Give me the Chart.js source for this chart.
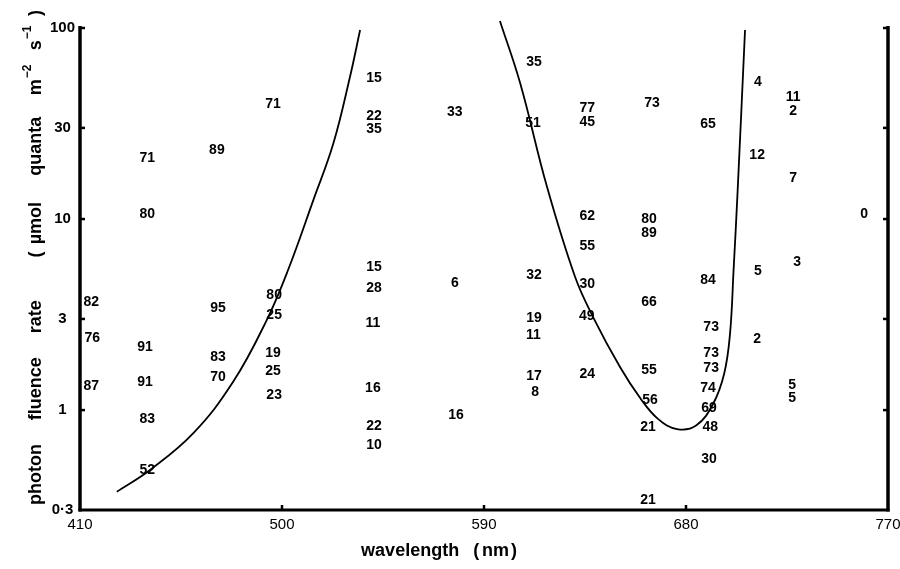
<!DOCTYPE html>
<html><head><meta charset="utf-8">
<script src="https://cdn.jsdelivr.net/npm/chart.js@4.4.1/dist/chart.umd.min.js"></script>
<style>html,body{margin:0;padding:0;background:#fff;}#wrap{width:900px;height:569px;}</style>
</head><body><div id="wrap"><canvas id="c" width="900" height="569"></canvas></div>
<script>
// ---- data ----
const xTickValues = [410, 500, 590, 680, 770];
const yTickValues = [0.3, 1, 3, 10, 30, 100];

const labelTexts = [
  '82','76','87',
  '71','80','91','91','83','52',
  '89','95','83','70',
  '71','80','25','19','25','23',
  '15','22','35','15','28','11','16','22','10',
  '33','6','16',
  '35','51','32','19','11','17','8',
  '77','45','62','55','30','49','24',
  '73','80','89','66','55','56','21','21',
  '65','84','73','73','73','74','69','48','30',
  '4','12','5','2',
  '11','2','7','3','5','5',
  '0'
];
const labelWavelengths = [
  415, 415.5, 415,
  440, 440, 439, 439, 440, 440,
  471, 471.5, 471.5, 471.5,
  496, 496.5, 496.5, 496, 496, 496.5,
  541, 541, 541, 541, 541, 540.5, 540.5, 541, 541,
  577, 577, 577.5,
  612.3, 611.8, 612.3, 612.3, 612, 612.3, 612.8,
  636, 636, 636, 636, 636, 635.8, 636,
  664.9, 663.5, 663.5, 663.5, 663.5, 664, 663.1, 663.1,
  689.8, 689.8, 691.2, 691.2, 691.2, 689.8, 690.3, 690.8, 690.3,
  712, 711.7, 712, 711.7,
  727.7, 727.7, 727.7, 729.5, 727.3, 727.3,
  759.4
];
const labelRates = [
  3.72, 2.41, 1.35,
  21.1, 10.8, 2.17, 1.42, 0.91, 0.492,
  23.3, 3.46, 1.92, 1.51,
  40.5, 4.05, 3.18, 2.01, 1.62, 1.21,
  55.4, 35.0, 30.0, 5.68, 4.41, 2.89, 1.32, 0.836, 0.665,
  36.8, 4.68, 0.955,
  67.2, 32.2, 5.16, 3.07, 2.50, 1.53, 1.26,
  38.6, 32.6, 10.5, 7.31, 4.63, 3.15, 1.56,
  41.0, 10.1, 8.56, 3.72, 1.64, 1.14, 0.826, 0.343,
  31.8, 4.86, 2.75, 2.01, 1.68, 1.32, 1.04, 0.826, 0.561,
  52.8, 21.9, 5.41, 2.38,
  44.1, 37.2, 16.6, 6.03, 1.37, 1.17,
  10.8
];

const leftCurveWavelengths = [426.4, 441.2, 460.5, 478.3, 493.2, 502.7, 514.0, 522.9, 530.3, 534.8];
const leftCurveRates      = [0.374, 0.486, 0.757, 1.41, 2.96, 5.41, 12.6, 24.9, 55.6, 97.6];

const rightCurveWavelengths = [597.1, 606.1, 618.1, 630.6, 638.6, 650.6, 659.5, 667.5, 676.0, 684.5, 692.1, 697.0, 699.6, 701.2, 703.0, 706.3];
const rightCurveRates       = [108.8, 51.5, 14.7, 4.97, 3.07, 1.68, 1.16, 0.90, 0.796, 0.83, 1.08, 1.55, 2.5, 5.41, 14.0, 97.6];

const xTitleTokens = ['wavelength', '(', 'nm', ')'];
const yTitleTokens = [['photon'], ['fluence'], ['rate'], ['('], ['\u00b5mol'], ['quanta'], ['m', '\u22122'], ['s', '\u22121'], [')']];
const yTitleGapWeights = [1, 1, 1.8, 0.3, 1.1, 0.9, 0.6, 0.4];

// ---- build ----
const FONT = '"Liberation Sans", Arial, Helvetica, sans-serif';
const labelPoints = labelTexts.map((t, i) => ({ x: labelWavelengths[i], y: labelRates[i], t }));
const leftCurve = leftCurveWavelengths.map((x, i) => ({ x, y: leftCurveRates[i] }));
const rightCurve = rightCurveWavelengths.map((x, i) => ({ x, y: rightCurveRates[i] }));

const numberLabels = {
  id: 'numberLabels',
  afterDatasetsDraw(chart) {
    const ctx = chart.ctx;
    const meta = chart.getDatasetMeta(0);
    ctx.save();
    ctx.fillStyle = '#000';
    ctx.font = 'bold 14px ' + FONT;
    ctx.textAlign = 'center';
    ctx.textBaseline = 'middle';
    meta.data.forEach((el, i) => {
      ctx.fillText(chart.data.datasets[0].data[i].t, el.x, el.y + 1);
    });
    ctx.restore();
  }
};

const frame = {
  id: 'frame',
  afterDraw(chart) {
    const ctx = chart.ctx;
    const xs = chart.scales.x, ys = chart.scales.y;
    const L = xs.getPixelForValue(410), R = xs.getPixelForValue(770);
    const T = ys.getPixelForValue(100), B = ys.getPixelForValue(0.3);
    ctx.save();
    ctx.strokeStyle = '#000';
    ctx.lineCap = 'butt';
    ctx.lineWidth = 3.5;
    ctx.beginPath(); ctx.moveTo(L, T - 2); ctx.lineTo(L, B + 1.5); ctx.stroke();
    ctx.beginPath(); ctx.moveTo(R, T - 2); ctx.lineTo(R, B + 1.5); ctx.stroke();
    ctx.lineWidth = 3;
    ctx.beginPath(); ctx.moveTo(L - 1.5, B); ctx.lineTo(R + 1.5, B); ctx.stroke();
    ctx.lineWidth = 2.5;
    yTickValues.forEach(v => {
      if (v === 0.3) return;
      const y = ys.getPixelForValue(v);
      ctx.beginPath(); ctx.moveTo(L, y); ctx.lineTo(L + 5, y); ctx.stroke();
      ctx.beginPath(); ctx.moveTo(R, y); ctx.lineTo(R - 5, y); ctx.stroke();
    });
    xTickValues.forEach(v => {
      if (v === 410 || v === 770) return;
      const x = xs.getPixelForValue(v);
      ctx.beginPath(); ctx.moveTo(x, B); ctx.lineTo(x, B - 5); ctx.stroke();
    });
    // x title
    ctx.fillStyle = '#000';
    ctx.font = 'bold 18px ' + FONT;
    ctx.textBaseline = 'middle';
    ctx.textAlign = 'left';
    const gaps = [14, 3, 2];
    const widths = xTitleTokens.map(t => ctx.measureText(t).width);
    const total = widths.reduce((a, b) => a + b, 0) + gaps.reduce((a, b) => a + b, 0);
    let x = xs.getPixelForValue(570) - total / 2;
    xTitleTokens.forEach((t, i) => { ctx.fillText(t, x, 551); x += widths[i] + (gaps[i] || 0); });
    // y title
    ctx.translate(36, 0);
    ctx.rotate(-Math.PI / 2);
    const mainF = 'bold 18px ' + FONT, supF = 'bold 12px ' + FONT;
    const tw = yTitleTokens.map(tok => {
      ctx.font = mainF; let w = ctx.measureText(tok[0]).width;
      if (tok[1]) { ctx.font = supF; w += ctx.measureText(tok[1]).width + 1; }
      return w;
    });
    const start = -505, end = -10;
    const sumW = tw.reduce((a, b) => a + b, 0);
    const sumWeights = yTitleGapWeights.reduce((a, b) => a + b, 0);
    const unit = ((end - start) - sumW) / sumWeights;
    let p = start;
    yTitleTokens.forEach((tok, i) => {
      ctx.font = mainF; ctx.fillText(tok[0], p, 0);
      if (tok[1]) {
        const w0 = ctx.measureText(tok[0]).width;
        ctx.font = supF; ctx.fillText(tok[1], p + w0 + 1, -8);
      }
      p += tw[i] + (yTitleGapWeights[i] || 0) * unit;
    });
    ctx.restore();
  }
};

new Chart(document.getElementById('c'), {
  type: 'scatter',
  data: {
    datasets: [
      { data: labelPoints, pointRadius: 0, pointHoverRadius: 0, showLine: false },
      { data: leftCurve, showLine: true, pointRadius: 0, borderColor: '#000', borderWidth: 1.8,
        tension: 0.4, clip: false, fill: false },
      { data: rightCurve, showLine: true, pointRadius: 0, borderColor: '#000', borderWidth: 1.8,
        tension: 0.4, clip: false, fill: false }
    ]
  },
  options: {
    responsive: false,
    animation: false,
    devicePixelRatio: 1,
    layout: { padding: { top: 28, right: 12, left: 0, bottom: 0 } },
    plugins: { legend: { display: false }, tooltip: { enabled: false } },
    scales: {
      x: {
        type: 'linear', min: 410, max: 770,
        afterBuildTicks: s => { s.ticks = xTickValues.map(v => ({ value: v })); },
        afterFit: s => { s.height = 59; s.paddingLeft = 0; s.paddingRight = 0; },
        grid: { display: false, drawTicks: false },
        border: { display: false },
        ticks: { color: '#000', font: { family: FONT, size: 15 }, padding: 6, maxRotation: 0 }
      },
      y: {
        type: 'logarithmic', min: 0.3, max: 100,
        afterBuildTicks: s => { s.ticks = yTickValues.map(v => ({ value: v })); },
        afterFit: s => { s.width = 80; s.paddingTop = 0; s.paddingBottom = 0; },
        grid: { display: false, drawTicks: false },
        border: { display: false },
        ticks: { color: '#000', font: { family: FONT, size: 15, weight: 'bold' }, padding: 5, crossAlign: 'center',
          callback: v => (v === 0.3 ? '0\u00b73' : String(v)) }
      }
    }
  },
  plugins: [numberLabels, frame]
});
</script></body></html>
